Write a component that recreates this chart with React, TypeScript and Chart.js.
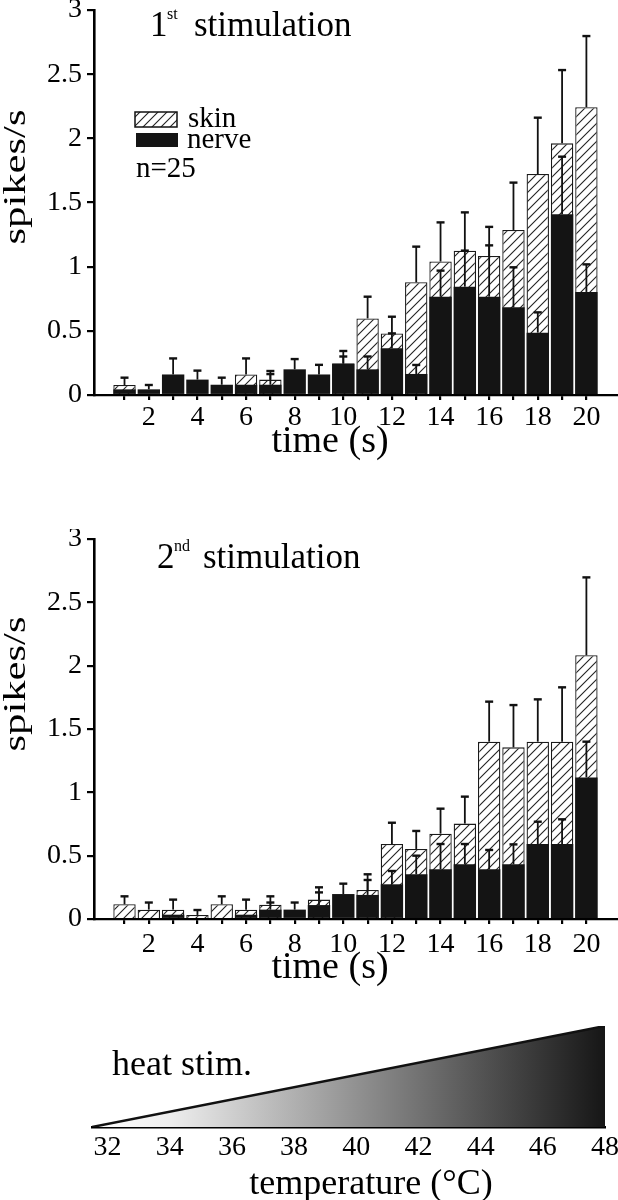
import React, { useEffect, useRef } from 'react';
import { Chart, registerables } from 'chart.js';

Chart.register(...registerables);

const SERIF = '"Liberation Serif", "Times New Roman", Times, serif';

// ---------- data ----------
const timeBins = [1, 2, 3, 4, 5, 6, 7, 8, 9, 10, 11, 12, 13, 14, 15, 16, 17, 18, 19, 20];
const timeTickLabels = ['2', '4', '6', '8', '10', '12', '14', '16', '18', '20'];
const yTicks = [0, 0.5, 1, 1.5, 2, 2.5, 3];

// 1st stimulation
const skin1 = [0.078, null, null, null, null, 0.16, 0.12, null, null, 0.245, 0.597, 0.48, 0.878, 1.04, 1.125, 1.083, 1.286, 1.722, 1.961, 2.242];
const skinErr1 = [0.057, null, null, null, null, 0.125, 0.067, null, null, 0.098, 0.169, 0.13, 0.278, 0.305, 0.298, 0.227, 0.369, 0.439, 0.571, 0.555];
const nerve1 = [0.044, 0.044, 0.16, 0.12, 0.08, 0.08, 0.08, 0.2, 0.16, 0.245, 0.2, 0.364, 0.164, 0.766, 0.844, 0.766, 0.683, 0.486, 1.408, 0.803];
const nerveErr1 = [null, 0.034, 0.125, 0.07, 0.055, null, 0.083, 0.08, 0.075, 0.055, 0.1, 0.116, 0.07, 0.203, 0.281, 0.4, 0.312, 0.158, 0.449, 0.215];

// 2nd stimulation
const skin2 = [0.116, 0.074, 0.074, 0.032, 0.116, 0.074, 0.113, null, 0.153, null, 0.229, 0.592, 0.553, 0.674, 0.753, 1.4, 1.355, 1.4, 1.4, 2.082];
const skinErr2 = [0.063, 0.056, 0.079, 0.039, 0.063, 0.079, 0.066, null, 0.097, null, 0.124, 0.168, 0.142, 0.197, 0.213, 0.316, 0.334, 0.334, 0.429, 0.615];
const nerve2 = [null, null, 0.034, null, null, 0.034, 0.074, 0.074, 0.11, 0.197, 0.19, 0.274, 0.353, 0.392, 0.432, 0.392, 0.432, 0.592, 0.592, 1.118];
const nerveErr2 = [null, null, null, null, null, null, 0.056, 0.056, 0.1, 0.082, 0.118, 0.105, 0.147, 0.2, 0.16, 0.153, 0.157, 0.176, 0.195, 0.282];

// temperature ramp
const tempTicks = [32, 34, 36, 38, 40, 42, 44, 46, 48];
const tempRange = [31.5, 48];
const heatLevel = [0, 1];

// texts
const yTitle = 'spikes/s';
const xTitle = 'time (s)';
const stimWord = 'stimulation';
const legendSkin = 'skin';
const legendNerve = 'nerve';
const nText = 'n=25';
const heatText = 'heat stim.';
const tempTitle = 'temperature (°C)';

// ---------- helpers ----------
function makeHatch(): CanvasPattern | string {
  const t = document.createElement('canvas');
  t.width = 9;
  t.height = 9;
  const c = t.getContext('2d');
  if (!c) return '#fff';
  c.fillStyle = '#fff';
  c.fillRect(0, 0, 9, 9);
  c.strokeStyle = '#222';
  c.lineWidth = 1.1;
  c.beginPath();
  c.moveTo(-1, 10);
  c.lineTo(10, -1);
  c.moveTo(-2, 2);
  c.lineTo(2, -2);
  c.moveTo(7, 11);
  c.lineTo(11, 7);
  c.stroke();
  return c.createPattern(t, 'repeat') || '#fff';
}

interface PanelParams {
  skin: (number | null)[];
  skinErr: (number | null)[];
  nerve: (number | null)[];
  nerveErr: (number | null)[];
  xAxisHeight: number;
  labelPad: number;
  num: string;
  sup: string;
  numX: number;
  supX: number;
  wordX: number;
  titleY: number;
  xTitleY: number;
  yTitleY: number;
  yTitleLen: number;
  legend: boolean;
}

function barConfig(p: PanelParams): any {
  const hatch = makeHatch();
  const errorBarPlugin = {
    id: 'errorBars',
    afterDatasetsDraw(chart: any) {
      const { ctx } = chart;
      const ys = chart.scales.y;
      const errs = [p.nerveErr, p.skinErr];
      const vals = [p.nerve, p.skin];
      for (let di = 0; di < 2; di++) {
        const meta = chart.getDatasetMeta(di);
        meta.data.forEach((el: any, i: number) => {
          const v = vals[di][i];
          const e = errs[di][i];
          if (v == null || e == null) return;
          const x = el.x;
          const y0 = ys.getPixelForValue(v);
          const y1 = ys.getPixelForValue(v + e);
          ctx.save();
          ctx.strokeStyle = '#111';
          ctx.lineWidth = 1.8;
          ctx.beginPath();
          ctx.moveTo(x, y0);
          ctx.lineTo(x, y1);
          ctx.stroke();
          ctx.lineWidth = 2.4;
          ctx.beginPath();
          ctx.moveTo(x - 4, y1);
          ctx.lineTo(x + 4, y1);
          ctx.stroke();
          ctx.restore();
        });
      }
    },
  };
  const textPlugin = {
    id: 'panelText',
    afterDraw(chart: any) {
      const c = chart.ctx as CanvasRenderingContext2D;
      c.save();
      c.fillStyle = '#000';
      c.textAlign = 'left';
      c.textBaseline = 'alphabetic';
      c.font = `35px ${SERIF}`;
      c.fillText(p.num, p.numX, p.titleY);
      c.fillText(stimWord, p.wordX, p.titleY);
      c.font = `16px ${SERIF}`;
      c.fillText(p.sup, p.supX, p.titleY - 17);
      // x title
      c.textAlign = 'center';
      c.font = `38px ${SERIF}`;
      c.fillText(xTitle, 330, p.xTitleY);
      // y title (stretched along its length)
      c.save();
      c.translate(17, p.yTitleY);
      c.rotate(-Math.PI / 2);
      c.font = `31px ${SERIF}`;
      const w = c.measureText(yTitle).width;
      c.scale(p.yTitleLen / w, 1);
      c.textAlign = 'center';
      c.textBaseline = 'middle';
      c.fillText(yTitle, 0, 0);
      c.restore();
      if (p.legend) {
        c.fillStyle = hatch as any;
        c.fillRect(135, 112, 42, 15);
        c.strokeStyle = '#111';
        c.lineWidth = 1.5;
        c.strokeRect(135, 112, 42, 15);
        c.fillStyle = '#141414';
        c.fillRect(136, 133, 42, 14);
        c.fillStyle = '#000';
        c.textAlign = 'left';
        c.textBaseline = 'alphabetic';
        c.font = `29px ${SERIF}`;
        c.fillText(legendSkin, 188, 127);
        c.fillText(legendNerve, 187, 148);
        c.fillText(nText, 136, 177);
      }
      c.restore();
    },
  };
  return {
    type: 'bar',
    data: {
      datasets: [
        {
          label: legendNerve,
          data: timeBins.map((t, i) => ({ x: t, y: p.nerve[i] })),
          backgroundColor: '#141414',
          borderWidth: 0,
          order: 0,
          stack: 'g',
          barPercentage: 0.92,
          categoryPercentage: 1,
        },
        {
          label: legendSkin,
          data: timeBins.map((t, i) => ({ x: t, y: p.skin[i] })),
          backgroundColor: hatch,
          borderColor: '#1a1a1a',
          borderWidth: 1.3,
          borderSkipped: 'bottom',
          order: 1,
          stack: 'g',
          barPercentage: 0.92,
          categoryPercentage: 1,
        },
      ],
    },
    options: {
      responsive: false,
      animation: false,
      events: [],
      layout: { padding: { top: 10, left: 0, right: 0, bottom: 0 } },
      plugins: { legend: { display: false }, tooltip: { enabled: false }, title: { display: false } },
      scales: {
        x: {
          type: 'linear',
          min: -0.255,
          max: 21.3,
          stacked: true,
          offset: false,
          afterBuildTicks: (s: any) => {
            s.ticks = timeBins.map((v) => ({ value: v }));
          },
          afterFit: (s: any) => {
            s.height = p.xAxisHeight;
            s.paddingLeft = 0;
            s.paddingRight = 0;
          },
          ticks: {
            autoSkip: false,
            maxRotation: 0,
            minRotation: 0,
            padding: p.labelPad,
            color: '#000',
            font: { family: SERIF, size: 28 },
            callback: (v: any) => (timeTickLabels.includes(String(v)) ? String(v) : ''),
          },
          grid: { display: true, drawOnChartArea: false, drawTicks: true, tickLength: 5, color: '#000', lineWidth: 2.2, offset: false },
          border: { display: true, color: '#000', width: 2.2 },
          title: { display: false },
        },
        y: {
          type: 'linear',
          min: 0,
          max: 3,
          stacked: false,
          afterBuildTicks: (s: any) => {
            s.ticks = yTicks.map((v) => ({ value: v }));
          },
          afterFit: (s: any) => {
            s.width = 94;
            s.paddingTop = 0;
            s.paddingBottom = 0;
          },
          ticks: { padding: 5, color: '#000', font: { family: SERIF, size: 28 }, callback: (v: any) => String(v) },
          grid: { display: true, drawOnChartArea: false, drawTicks: true, tickLength: 7, color: '#000', lineWidth: 2.2 },
          border: { display: true, color: '#000', width: 2.6 },
          title: { display: false },
        },
      },
    },
    plugins: [errorBarPlugin, textPlugin],
  };
}

function rampConfig(): any {
  const textPlugin = {
    id: 'rampText',
    afterDraw(chart: any) {
      const c = chart.ctx as CanvasRenderingContext2D;
      c.save();
      c.fillStyle = '#000';
      c.textBaseline = 'alphabetic';
      c.textAlign = 'left';
      c.font = `36px ${SERIF}`;
      c.fillText(heatText, 112, 75);
      c.textAlign = 'center';
      c.fillText(tempTitle, 371, 194);
      c.restore();
    },
  };
  return {
    type: 'line',
    data: {
      datasets: [
        {
          data: tempRange.map((t, i) => ({ x: t, y: heatLevel[i] })),
          fill: 'origin',
          borderColor: '#111',
          borderWidth: 2.5,
          pointRadius: 0,
          tension: 0,
          backgroundColor: (ctx: any) => {
            const { chart } = ctx;
            const area = chart.chartArea;
            if (!area) return '#888';
            const g = chart.ctx.createLinearGradient(area.left, 0, area.right, 0);
            g.addColorStop(0, '#ffffff');
            g.addColorStop(0.15, '#eeeeee');
            g.addColorStop(1, '#161616');
            return g;
          },
        },
      ],
    },
    options: {
      responsive: false,
      animation: false,
      events: [],
      layout: { padding: { left: 92, right: 13, top: 26, bottom: 0 } },
      plugins: { legend: { display: false }, tooltip: { enabled: false } },
      scales: {
        x: {
          type: 'linear',
          min: tempRange[0],
          max: tempRange[1],
          afterBuildTicks: (s: any) => {
            s.ticks = tempTicks.map((v) => ({ value: v }));
          },
          afterFit: (s: any) => {
            s.height = 73;
            s.paddingLeft = 0;
            s.paddingRight = 0;
          },
          ticks: { padding: 4, color: '#000', font: { family: SERIF, size: 28 }, maxRotation: 0, autoSkip: false, callback: (v: any) => String(v) },
          grid: { display: false, drawTicks: false },
          border: { display: true, color: '#000', width: 2.5 },
          title: { display: false },
        },
        y: { display: false, min: 0, max: 1 },
      },
    },
    plugins: [textPlugin],
  };
}

function ChartCanvas({ make, top, height }: { make: () => any; top: number; height: number }) {
  const ref = useRef<HTMLCanvasElement>(null);
  useEffect(() => {
    if (!ref.current) return;
    const chart = new Chart(ref.current, make());
    return () => chart.destroy();
  }, []);
  return (
    <canvas
      ref={ref}
      width={618}
      height={height}
      style={{ position: 'absolute', left: 0, top, width: 618, height, display: 'block' }}
    />
  );
}

export default function App() {
  return (
    <div style={{ position: 'absolute', left: 0, top: 0, width: 618, height: 1200, background: '#fff', overflow: 'hidden' }}>
      <ChartCanvas
        top={0}
        height={470}
        make={() =>
          barConfig({
            skin: skin1,
            skinErr: skinErr1,
            nerve: nerve1,
            nerveErr: nerveErr1,
            xAxisHeight: 75,
            labelPad: 1,
            num: '1',
            sup: 'st',
            numX: 150,
            supX: 167,
            wordX: 194,
            titleY: 36,
            xTitleY: 452,
            yTitleY: 177,
            yTitleLen: 135,
            legend: true,
          })
        }
      />
      <ChartCanvas
        top={529}
        height={470}
        make={() =>
          barConfig({
            skin: skin2,
            skinErr: skinErr2,
            nerve: nerve2,
            nerveErr: nerveErr2,
            xAxisHeight: 80,
            labelPad: 4,
            num: '2',
            sup: 'nd',
            numX: 157,
            supX: 174,
            wordX: 203,
            titleY: 39,
            xTitleY: 449,
            yTitleY: 155,
            yTitleLen: 135,
            legend: false,
          })
        }
      />
      <ChartCanvas top={1000} height={200} make={rampConfig} />
    </div>
  );
}
